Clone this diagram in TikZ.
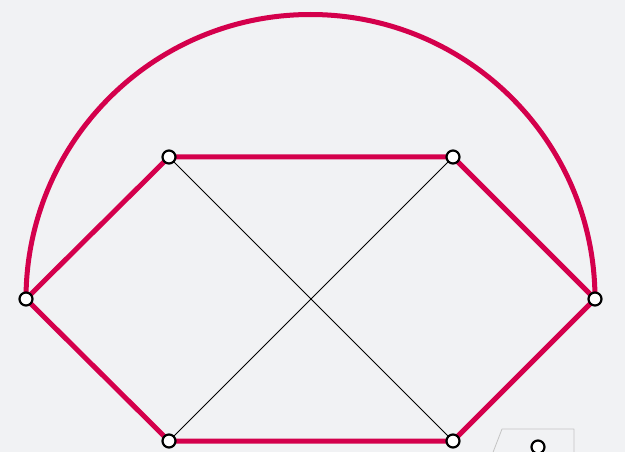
\documentclass[tikz,border=0pt]{standalone}
\usetikzlibrary{calc}
\definecolor{hexPaper}{HTML}{F1F2F4}
\definecolor{hexRed}{HTML}{D4004C}
\definecolor{hexGrey}{HTML}{C4C4C4}
\begin{document}
\begin{tikzpicture}[x=1pt,y=-1pt,line cap=round,line join=round]
\useasboundingbox (0,0) rectangle (625,452);
\clip (0,0) rectangle (625,452);
\path[fill=hexPaper] (0,0) rectangle (625,452);
\tikzset{vtx/.style={circle,draw=black,fill=white,line width=2.2pt,inner sep=0pt,minimum size=13pt},redge/.style={draw=hexRed,line width=5pt},cross/.style={draw=black,line width=0.75pt}}
% outer arc and chords
\draw[redge] (26,299) arc[start angle=180,end angle=360,radius=284.5];
\coordinate (w) at (26,299); \coordinate (e) at (595,299);
\coordinate (nw) at (169,157); \coordinate (ne) at (453,157);
\coordinate (sw) at (169,441); \coordinate (se) at (453,441);
\draw[redge] (w) -- (nw) -- (ne) -- (e) -- (se) -- (sw) -- cycle;
\draw[cross] (nw) -- (se); \draw[cross] (ne) -- (sw);
\node[vtx] (vw) at (w) {}; \node[vtx] (ve) at (e) {};
\node[vtx] (vnw) at (nw) {}; \node[vtx] (vne) at (ne) {};
\node[vtx] (vsw) at (sw) {}; \node[vtx] (vse) at (se) {};
% box cut off at the lower edge
\draw[draw=hexGrey,line width=0.8pt,line cap=butt] (492,455) -- (502,429) -- (574,429) -- (574,455);
\node[vtx] (vbox) at (538,447) {};
\end{tikzpicture}
\end{document}
